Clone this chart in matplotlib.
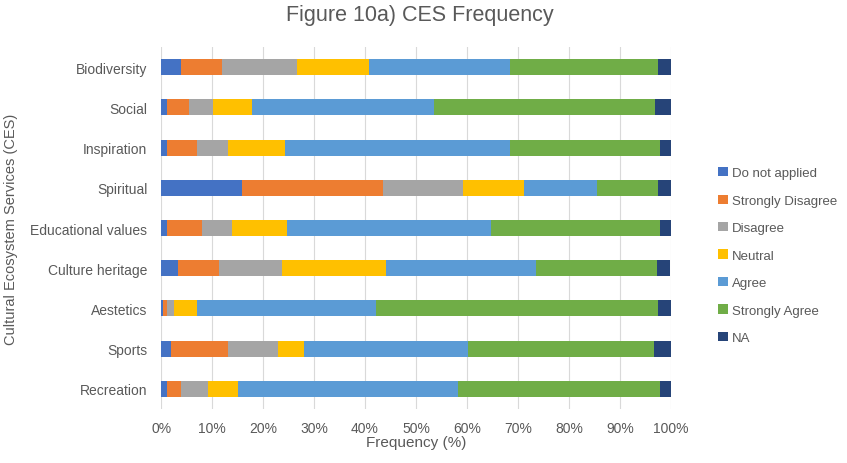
import matplotlib
matplotlib.use("Agg")
import matplotlib.pyplot as plt
import numpy as np

plt.rcParams['font.family'] = ['Liberation Sans', 'DejaVu Sans']

categories = ["Biodiversity", "Social", "Inspiration", "Spiritual", "Educational values",
              "Culture heritage", "Aestetics", "Sports", "Recreation"]
series_names = ["Do not applied", "Strongly Disagree", "Disagree", "Neutral",
                "Agree", "Strongly Agree", "NA"]

# percentage share of each response per service (rows follow categories)
do_not_applied    = [3.9, 1.1, 1.1, 15.8, 1.1, 3.3, 0.4, 2.0, 1.1]
strongly_disagree = [8.1, 4.4, 6.0, 27.7, 6.8, 8.1, 0.7, 11.1, 2.8]
disagree          = [14.6, 4.6, 6.0, 15.8, 6.0, 12.2, 1.4, 9.8, 5.2]
neutral           = [14.2, 7.8, 11.1, 11.9, 10.8, 20.6, 4.6, 5.1, 6.0]
agree             = [27.7, 35.6, 44.3, 14.4, 40.0, 29.3, 35.0, 32.3, 43.1]
strongly_agree    = [29.0, 43.5, 29.3, 11.9, 33.1, 23.9, 55.4, 36.4, 39.7]
na                = [2.5, 3.0, 2.2, 2.5, 2.2, 2.5, 2.5, 3.3, 2.2]

x_ticks = [0, 10, 20, 30, 40, 50, 60, 70, 80, 90, 100]
x_tick_labels = ["0%", "10%", "20%", "30%", "40%", "50%", "60%", "70%", "80%", "90%", "100%"]

series = [do_not_applied, strongly_disagree, disagree, neutral, agree, strongly_agree, na]
colors = ["#4472C4", "#ED7D31", "#A5A5A5", "#FFC000", "#5B9BD5", "#70AD47", "#264478"]
text_color = "#595959"

fig = plt.figure(figsize=(8.47, 4.64), dpi=100)
ax = fig.add_axes([0.1904, 0.1164, 0.6015, 0.780])

y = np.arange(len(categories))
left = np.zeros(len(categories))
handles = []
for name, vals, col in zip(series_names, series, colors):
    vals = np.array(vals)
    h = ax.barh(y, vals, left=left, height=0.4, color=col, label=name, zorder=3)
    handles.append(h)
    left += vals

ax.set_ylim(len(categories) - 0.5, -0.5)
ax.set_xlim(0, 100)
ax.set_yticks(y)
ax.set_yticklabels(categories, fontsize=10, color=text_color)
ax.set_xticks(x_ticks)
ax.set_xticklabels(x_tick_labels, fontsize=10, color=text_color)
ax.tick_params(axis='both', length=0)
ax.tick_params(axis='y', pad=10)
ax.tick_params(axis='x', pad=9)

ax.grid(axis='x', color="#D9D9D9", linewidth=0.8, zorder=0)
for s in ["top", "right", "bottom", "left"]:
    ax.spines[s].set_visible(False)

ax.set_xlabel("Frequency (%)", fontsize=11, color=text_color, labelpad=0)
ax.set_ylabel("Cultural Ecosystem Services (CES)", fontsize=10.5, color=text_color, labelpad=9)

fig.text(0.496, 0.966, "Figure 10a) CES Frequency", ha="center", va="center",
         fontsize=15.5, color=text_color)

leg = fig.legend(handles=handles, loc="center left", bbox_to_anchor=(0.842, 0.447),
                 frameon=False, fontsize=9.5, handlelength=0.7, handleheight=0.7,
                 handletextpad=0.3, labelspacing=1.15, borderaxespad=0)
for t in leg.get_texts():
    t.set_color(text_color)

fig.savefig("out.png", dpi=100)
